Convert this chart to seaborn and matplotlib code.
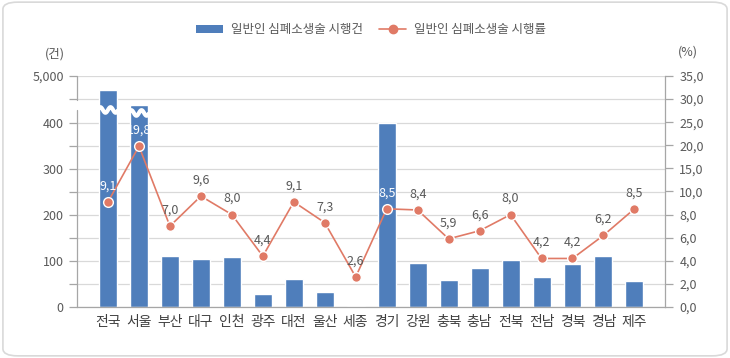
import numpy as np
import pandas as pd
import matplotlib
matplotlib.use("Agg")
import matplotlib.pyplot as plt
import matplotlib.transforms as mtransforms
from matplotlib.patches import FancyBboxPatch, Patch
from matplotlib.lines import Line2D
import seaborn as sns

# 데이터
regions = ['전국', '서울', '부산', '대구', '인천', '광주', '대전', '울산', '세종',
           '경기', '강원', '충북', '충남', '전북', '전남', '경북', '경남', '제주']
counts = [3600, 2200, 111, 104, 109, 28, 61, 33, 3,
          406, 96, 59, 85, 102, 65, 93, 111, 57]
rates = [9.1, 19.8, 7.0, 9.6, 8.0, 4.4, 9.1, 7.3, 2.6,
         8.5, 8.4, 5.9, 6.6, 8.0, 4.2, 4.2, 6.2, 8.5]
left_ticks = [0, 100, 200, 300, 400, 5000]
right_ticks = [0, 2, 4, 6, 8, 10, 15, 20, 25, 30, 35]
bar_label = '일반인 심폐소생술 시행건'
line_label = '일반인 심폐소생술 시행률'

BAR = '#4F7EBB'
LINE = '#E07A66'
GRID = '#D9D9D9'
AXIS = '#A6A6A6'
TXT = '#595959'

df = pd.DataFrame({'region': regions, 'count': counts, 'rate': rates})

# 끊어진 축 (0~400 선형, 400~5000 압축 / 0~10 선형, 10~35 압축)
def fwd_l(v):
    v = np.asarray(v, dtype=float)
    return np.where(v <= 400, v, 400 + (v - 400) * 102 / 4600)

def inv_l(u):
    u = np.asarray(u, dtype=float)
    return np.where(u <= 400, u, 400 + (u - 400) * 4600 / 102)

def fwd_r(v):
    v = np.asarray(v, dtype=float)
    return np.where(v <= 10, v, 10 + (v - 10) * 0.4)

def inv_r(u):
    u = np.asarray(u, dtype=float)
    return np.where(u <= 10, u, 10 + (u - 10) * 2.5)

sns.set_theme(style='white')
plt.rcParams['font.family'] = ['Noto Sans CJK KR', 'DejaVu Sans']
plt.rcParams['axes.unicode_minus'] = False

fig = plt.figure(figsize=(7.3, 3.58), dpi=100)
fig.patch.set_facecolor('white')
fig.patches.append(FancyBboxPatch((0.004, 0.006), 0.992, 0.988,
                                  boxstyle='round,pad=0,rounding_size=0.02',
                                  transform=fig.transFigure, facecolor='white',
                                  edgecolor=GRID, lw=1.2, zorder=-10))

ax = fig.add_axes([0.1055, 0.1425, 0.806, 0.6452])
ax.patch.set_alpha(0)

sns.barplot(data=df, x='region', y='count', color=BAR, saturation=1,
            width=0.58, ax=ax, zorder=2)
ax.set_yscale('function', functions=(fwd_l, inv_l))
ax.set_ylim(0, 5000)
ax.set_xlim(-1, len(regions))

mid = float(inv_l(451.8))
ax.set_yticks(left_ticks)
ax.set_yticklabels([f'{v:,}' for v in left_ticks])
ax.set_yticks([50, 150, 250, 350, mid], minor=True)
ax.yaxis.grid(True, which='both', color=GRID, lw=0.9, zorder=0)
ax.set_axisbelow(True)
ax.tick_params(axis='y', which='both', direction='out', length=6, width=0.9,
               color=AXIS, labelsize=9, labelcolor=TXT, pad=3.5, left=True)
ax.tick_params(axis='x', length=0, labelsize=10, labelcolor='#404040', pad=6)
ax.set_xlabel('')
ax.set_ylabel('')
for s in ['top', 'right', 'left']:
    ax.spines[s].set_visible(False)
ax.spines['bottom'].set_color(AXIS)
ax.spines['bottom'].set_linewidth(0.9)

# 왼쪽 축선 (물결 구간에서 끊김)
ax.plot([0, 0], [0, 0.853], transform=ax.transAxes, color=AXIS, lw=0.9, clip_on=False)
ax.plot([0, 0], [0.896, 1], transform=ax.transAxes, color=AXIS, lw=0.9, clip_on=False)

# 막대 물결 표시
trans = mtransforms.blended_transform_factory(ax.transData, ax.transAxes)
for i, c in enumerate(counts):
    if c > 400:
        lvl = 0.853 if i == 0 else 0.84
        xs = np.linspace(i - 0.33, i + 0.33, 60)
        ys = lvl + 0.012 * np.sin((xs - i) / 0.33 * 2 * np.pi)
        ax.plot(xs, ys, transform=trans, color='white', lw=3, zorder=3,
                solid_capstyle='butt')

ax2 = ax.twinx()
sns.lineplot(x=np.arange(len(rates)), y=rates, ax=ax2, color=LINE, lw=1.2,
             marker='o', markersize=7, markeredgecolor='white',
             markeredgewidth=1, zorder=4)
ax2.set_yscale('function', functions=(fwd_r, inv_r))
ax2.set_ylim(0, 35)
ax2.set_xlim(-1, len(regions))
ax2.set_yticks(right_ticks)
ax2.set_yticklabels([f'{v:.1f}'.replace('.', ',') for v in right_ticks])
ax2.tick_params(axis='y', direction='out', length=6, width=0.9, color=AXIS,
                labelsize=9, labelcolor=TXT, pad=4, right=True)
ax2.set_xlabel('')
ax2.set_ylabel('')
for s in ['top', 'left', 'bottom']:
    ax2.spines[s].set_visible(False)
ax2.spines['right'].set_color(AXIS)
ax2.spines['right'].set_linewidth(0.9)

# 데이터 레이블
for i, (c, r) in enumerate(zip(counts, rates)):
    bar_top = fwd_l(c) / fwd_l(5000)
    lab_pos = (fwd_r(r) + 1.3) / fwd_r(35)
    col = 'white' if bar_top > lab_pos else TXT
    ax2.annotate(f'{r:.1f}'.replace('.', ','), (i, r), xytext=(0, 11.5),
                 textcoords='offset points', ha='center', va='center',
                 fontsize=9, color=col, zorder=5)

fig.text(0.075, 0.85, '(건)', ha='center', va='center', fontsize=9, color=TXT)
fig.text(0.942, 0.855, '(%)', ha='center', va='center', fontsize=9, color=TXT)

handles = [Patch(facecolor=BAR, edgecolor='none'),
           Line2D([], [], color=LINE, lw=1.2, marker='o', markersize=6,
                  markeredgecolor=LINE)]
fig.legend(handles, [bar_label, line_label], loc='center', ncol=2,
           bbox_to_anchor=(0.508, 0.917), frameon=False, fontsize=9,
           labelcolor=TXT, handlelength=2.2, handleheight=0.55,
           columnspacing=1.3, handletextpad=0.6)

fig.savefig('out.png', dpi=100, facecolor='white')
